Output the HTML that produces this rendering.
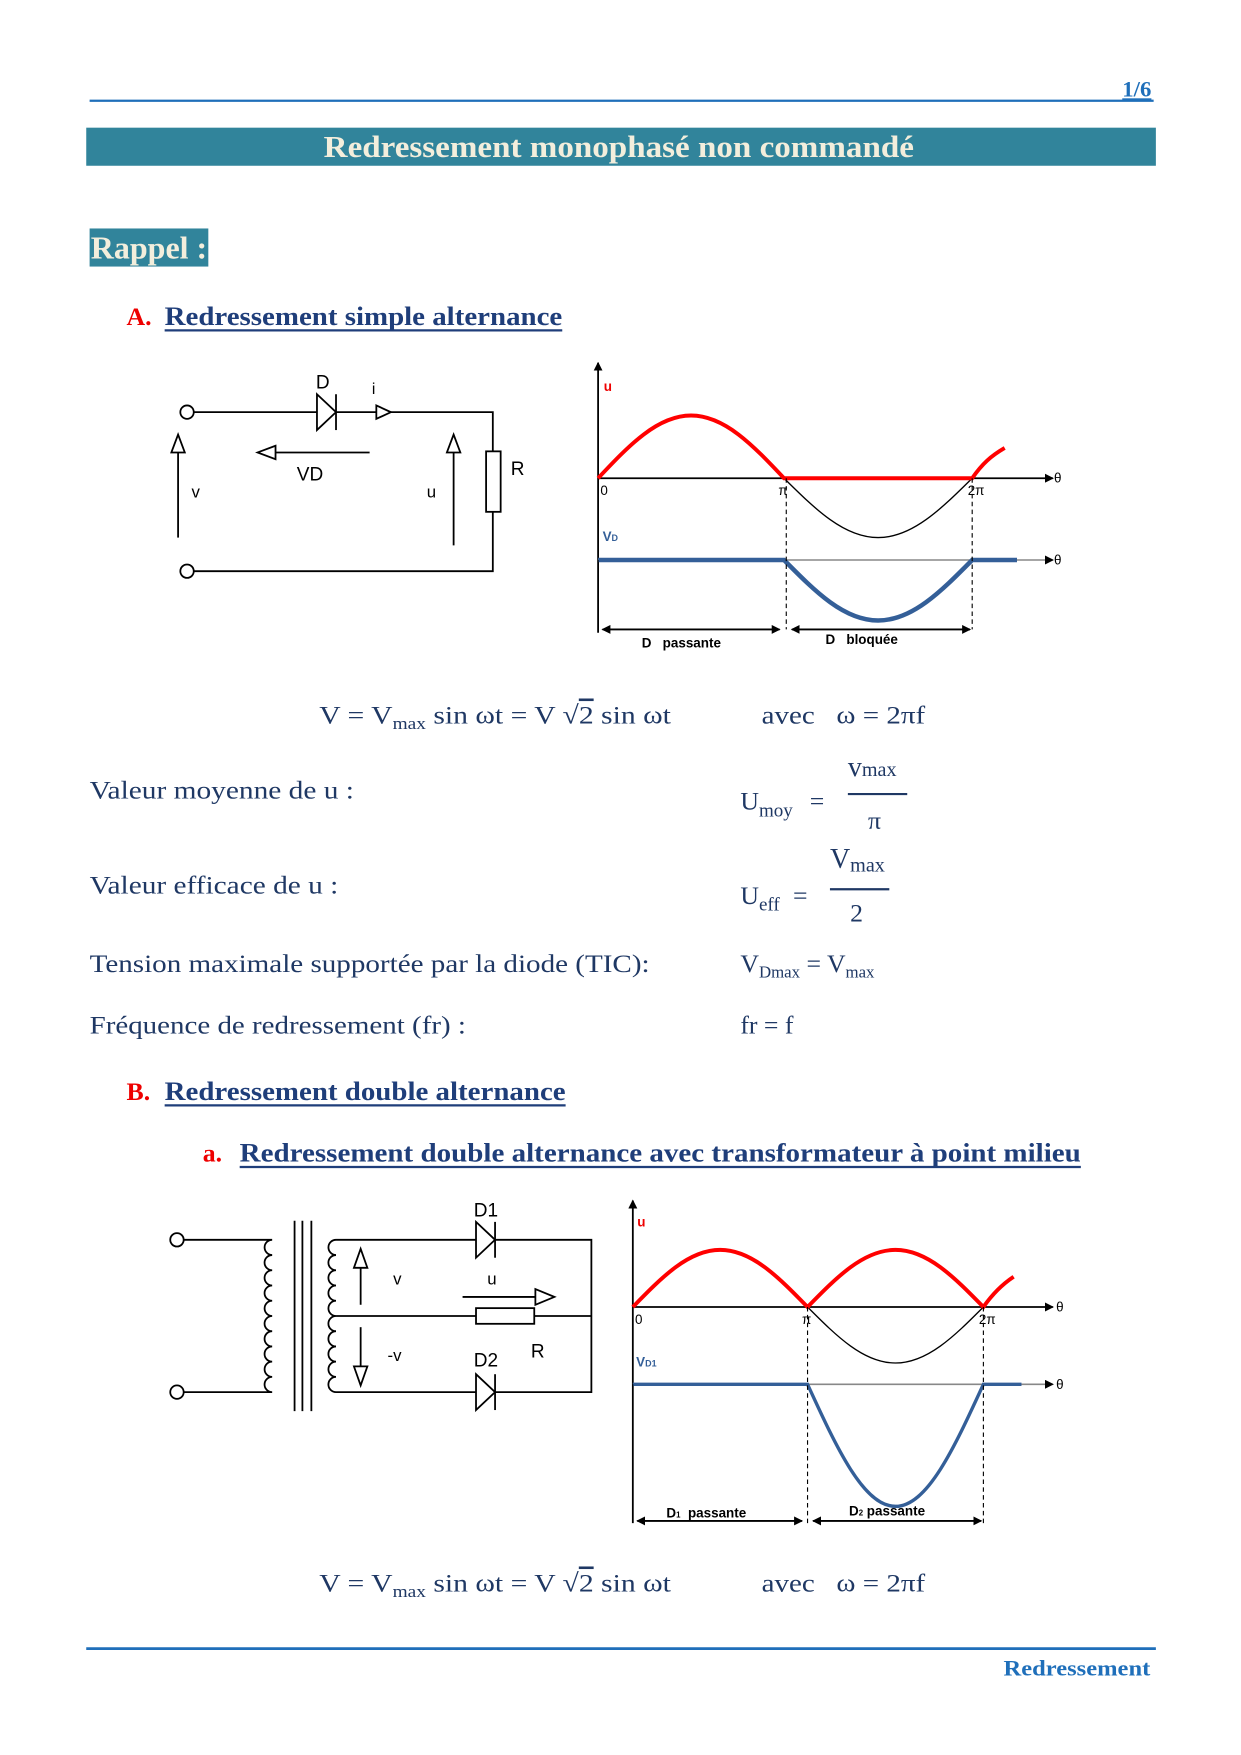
<!DOCTYPE html>
<html><head><meta charset="utf-8"><style>
html,body{margin:0;padding:0;background:#fff;}
svg{display:block;}
text{font-family:"Liberation Serif",serif;}
.s{font-family:"Liberation Sans",sans-serif;}
</style></head><body>
<svg width="1241" height="1755" viewBox="0 0 1108 1567" preserveAspectRatio="none" xmlns="http://www.w3.org/2000/svg">
<defs>
<marker id="ar" markerWidth="8" markerHeight="8" refX="7" refY="4" orient="auto" markerUnits="userSpaceOnUse"><path d="M0,0 L8,4 L0,8 z" fill="#000"/></marker>
<marker id="ar2" markerWidth="8" markerHeight="8" refX="1" refY="4" orient="auto" markerUnits="userSpaceOnUse"><path d="M8,0 L0,4 L8,8 z" fill="#000"/></marker>
</defs>
<!-- header -->
<line x1="80" y1="90" x2="1030" y2="90" stroke="#1f6fba" stroke-width="2"/>
<text x="1002" y="86" font-size="20" font-weight="bold" fill="#1f6fba" text-decoration="underline" textLength="26" lengthAdjust="spacingAndGlyphs">1/6</text>
<rect x="77" y="114" width="955" height="34" fill="#31849b"/>
<text x="289" y="140" font-size="27" font-weight="bold" fill="#f3eedc" textLength="527" lengthAdjust="spacingAndGlyphs">Redressement monophasé non commandé</text>
<rect x="80" y="204" width="106" height="34" fill="#31849b"/>
<text x="81" y="231" font-size="28" font-weight="bold" fill="#f3eedc" textLength="104" lengthAdjust="spacingAndGlyphs">Rappel :</text>
<text x="113" y="290" font-size="23" font-weight="bold" fill="#e00">A.</text>
<text x="147" y="290" font-size="24" font-weight="bold" fill="#1f3e7a" textLength="355" lengthAdjust="spacingAndGlyphs">Redressement simple alternance</text>
<line x1="147" y1="295" x2="502" y2="295" stroke="#1f3e7a" stroke-width="2"/>

<!-- circuit 1 -->
<g stroke="#000" stroke-width="1.6" fill="none">
<circle cx="167" cy="368" r="6"/><circle cx="167" cy="510" r="6"/>
<path d="M173,368 H440 V510 H173"/>
<path d="M283,352 L300,368 L283,384 Z" fill="#fff"/>
<line x1="300" y1="352" x2="300" y2="384"/>
<path d="M336,362 L349,368 L336,374 Z" fill="#fff"/>
<rect x="434" y="403" width="13" height="54" fill="#fff"/>
<line x1="159" y1="480" x2="159" y2="400"/><path d="M153,404 L159,388 L165,404 Z" fill="#fff"/>
<line x1="330" y1="404" x2="244" y2="404"/><path d="M246,398 L230,404 L246,410 Z" fill="#fff"/>
<line x1="405" y1="487" x2="405" y2="402"/><path d="M399,404 L405,388 L411,404 Z" fill="#fff"/>
</g>
<g font-size="17" fill="#000">
<text x="282" y="347" class="s">D</text><text x="332" y="352" class="s" font-size="14">i</text>
<text x="456" y="424" class="s">R</text><text x="171" y="444" class="s" font-size="15">v</text>
<text x="265" y="429" class="s">VD</text><text x="381" y="444" class="s" font-size="15">u</text>
</g>

<!-- graph 1 -->
<g fill="none">
<line x1="534" y1="565" x2="534" y2="324" stroke="#000" stroke-width="1.6" marker-end="url(#ar)"/>
<line x1="534" y1="427" x2="940" y2="427" stroke="#000" stroke-width="1.6" marker-end="url(#ar)"/>
<line x1="534" y1="500" x2="940" y2="500" stroke="#888" stroke-width="1.4" marker-end="url(#ar)"/>
<path d="M700,427 C728.1,454.8 753.6,480 784,480 S839.9,454.8 868,427" stroke="#000" stroke-width="1.2"/>
<path d="M534,427 C561.7,397.6 587,371 617,371 S672.3,397.6 700,427 L868,427 C877,414 885,407 897,400" stroke="#f00" stroke-width="3.5"/>
<path d="M534,500 L700,500 C728.1,528.4 753.6,554 784,554 S839.9,528.4 868,500 L908,500" stroke="#345f98" stroke-width="4"/>
<g stroke="#000" stroke-width="1" stroke-dasharray="4,3"><line x1="534" y1="500" x2="534" y2="562"/><line x1="702" y1="427" x2="702" y2="562"/><line x1="868" y1="427" x2="868" y2="562"/></g>
<line x1="538" y1="562" x2="696" y2="562" stroke="#000" stroke-width="1.6" marker-end="url(#ar)" marker-start="url(#ar2)"/>
<line x1="707" y1="562" x2="866" y2="562" stroke="#000" stroke-width="1.6" marker-end="url(#ar)" marker-start="url(#ar2)"/>
</g>
<g font-size="12" fill="#000">
<text x="539" y="349" fill="#e00" font-weight="bold" class="s">u</text>
<text x="536" y="442" class="s">0</text><text x="695" y="442" class="s">π</text><text x="864" y="442" class="s">2π</text>
<text x="941" y="431" class="s">θ</text><text x="941" y="504" class="s">θ</text>
<text x="538" y="483" fill="#345f98" font-weight="bold" class="s">V<tspan font-size="8">D</tspan></text>
<text x="573" y="578" class="s" font-weight="bold">D &#160; passante</text><text x="737" y="575" class="s" font-weight="bold">D &#160; bloquée</text>
</g>

<!-- formulas -->
<g fill="#1f3864" font-size="23">
<text x="285" y="646" textLength="314" lengthAdjust="spacingAndGlyphs">V = V<tspan font-size="15" dy="5">max</tspan><tspan dy="-5"> sin ωt = V √</tspan><tspan text-decoration="overline">2</tspan> sin ωt</text>
<text x="680" y="646" textLength="146" lengthAdjust="spacingAndGlyphs">avec &#160; ω = 2πf</text>
<text x="80" y="713" textLength="236" lengthAdjust="spacingAndGlyphs">Valeur moyenne de u :</text>
<text x="661" y="723">U<tspan font-size="17" dy="6">moy</tspan></text><text x="723" y="723">=</text>
<text x="757" y="693" font-size="25">v<tspan font-size="18">max</tspan></text>
<line x1="757" y1="709" x2="810" y2="709" stroke="#1f3864" stroke-width="2"/>
<text x="775" y="740">π</text>
<text x="80" y="798" textLength="222" lengthAdjust="spacingAndGlyphs">Valeur efficace de u :</text>
<text x="661" y="807">U<tspan font-size="17" dy="6">eff</tspan></text><text x="708" y="807">=</text>
<text x="741" y="775" font-size="25">V<tspan font-size="18" dy="3">max</tspan></text>
<line x1="741" y1="794" x2="794" y2="794" stroke="#1f3864" stroke-width="2"/>
<text x="759" y="823">2</text>
<text x="80" y="868" textLength="500" lengthAdjust="spacingAndGlyphs">Tension maximale supportée par la diode (TIC):</text>
<text x="661" y="868">V<tspan font-size="15" dy="5">Dmax</tspan><tspan dy="-5"> = V</tspan><tspan font-size="15" dy="5">max</tspan></text>
<text x="80" y="923" textLength="336" lengthAdjust="spacingAndGlyphs">Fréquence de redressement (fr) :</text>
<text x="661" y="923">fr = f</text>
</g>
<text x="113" y="982" font-size="23" font-weight="bold" fill="#e00">B.</text>
<text x="147" y="982" font-size="24" font-weight="bold" fill="#1f3e7a" textLength="358" lengthAdjust="spacingAndGlyphs">Redressement double alternance</text>
<line x1="147" y1="987" x2="505" y2="987" stroke="#1f3e7a" stroke-width="2"/>
<text x="181" y="1037" font-size="23" font-weight="bold" fill="#e00">a.</text>
<text x="214" y="1037" font-size="24" font-weight="bold" fill="#1f3e7a" textLength="751" lengthAdjust="spacingAndGlyphs">Redressement double alternance avec transformateur à point milieu</text>
<line x1="214" y1="1042" x2="965" y2="1042" stroke="#1f3e7a" stroke-width="2"/>

<!-- circuit 2 -->
<g stroke="#000" stroke-width="1.6" fill="none">
<circle cx="158" cy="1107" r="6"/><circle cx="158" cy="1243" r="6"/>
<path d="M164,1107 H243 a6.8,6.8 0 0 0 0,13.6 a6.8,6.8 0 0 0 0,13.6 a6.8,6.8 0 0 0 0,13.6 a6.8,6.8 0 0 0 0,13.6 a6.8,6.8 0 0 0 0,13.6 a6.8,6.8 0 0 0 0,13.6 a6.8,6.8 0 0 0 0,13.6 a6.8,6.8 0 0 0 0,13.6 a6.8,6.8 0 0 0 0,13.6 a6.8,6.8 0 0 0 0,13.6 H164"/>
<line x1="263" y1="1090" x2="263" y2="1260"/><line x1="270" y1="1090" x2="270" y2="1260"/><line x1="278" y1="1090" x2="278" y2="1260"/>
<path d="M300,1107 a6.8,6.8 0 0 0 0,13.6 a6.8,6.8 0 0 0 0,13.6 a6.8,6.8 0 0 0 0,13.6 a6.8,6.8 0 0 0 0,13.6 a6.8,6.8 0 0 0 0,13.6 a6.8,6.8 0 0 0 0,13.6 a6.8,6.8 0 0 0 0,13.6 a6.8,6.8 0 0 0 0,13.6 a6.8,6.8 0 0 0 0,13.6 a6.8,6.8 0 0 0 0,13.6"/>
<path d="M300,1107 H528 V1243 H300"/>
<path d="M300,1175 H528"/>
<path d="M425,1091 L442,1107 L425,1123 Z" fill="#fff"/><line x1="442" y1="1091" x2="442" y2="1123"/>
<path d="M425,1227 L442,1243 L425,1259 Z" fill="#fff"/><line x1="442" y1="1227" x2="442" y2="1259"/>
<rect x="425" y="1168" width="52" height="14" fill="#fff"/>
<line x1="413" y1="1158" x2="478" y2="1158"/><path d="M478,1151 L495,1158 L478,1165 Z" fill="#fff"/>
<line x1="322" y1="1165" x2="322" y2="1130"/><path d="M316,1132 L322,1115 L328,1132 Z" fill="#fff"/>
<line x1="322" y1="1185" x2="322" y2="1222"/><path d="M316,1220 L322,1237 L328,1220 Z" fill="#fff"/>
</g>
<g font-size="17" fill="#000">
<text x="423" y="1086" class="s">D1</text><text x="435" y="1147" class="s" font-size="15">u</text>
<text x="351" y="1147" class="s" font-size="15">v</text><text x="346" y="1215" class="s" font-size="15">-v</text>
<text x="423" y="1220" class="s">D2</text><text x="474" y="1212" class="s">R</text>
</g>

<!-- graph 2 -->
<g fill="none">
<line x1="565" y1="1360" x2="565" y2="1072" stroke="#000" stroke-width="1.6" marker-end="url(#ar)"/>
<line x1="565" y1="1167" x2="940" y2="1167" stroke="#000" stroke-width="1.6" marker-end="url(#ar)"/>
<line x1="565" y1="1236" x2="940" y2="1236" stroke="#888" stroke-width="1.4" marker-end="url(#ar)"/>
<path d="M721,1167 C747.2,1193.3 771.1,1217 799.5,1217 S851.8,1193.3 878,1167" stroke="#000" stroke-width="1.2"/>
<path d="M565,1167 C591.1,1140.2 614.8,1116 643,1116 S694.9,1140.2 721,1167 C747.2,1140.2 771.1,1116 799.5,1116 S851.8,1140.2 878,1167 C885,1157 893,1148 905,1140" stroke="#f00" stroke-width="3.5"/>
<path d="M565,1236 L721,1236 C747.2,1293.2 771.1,1345 799.5,1345 S851.8,1293.2 878,1236 L912,1236" stroke="#345f98" stroke-width="3"/>
<g stroke="#000" stroke-width="1" stroke-dasharray="4,3"><line x1="565" y1="1236" x2="565" y2="1362"/><line x1="721" y1="1167" x2="721" y2="1362"/><line x1="878" y1="1167" x2="878" y2="1362"/></g>
<line x1="569" y1="1358" x2="716" y2="1358" stroke="#000" stroke-width="1.6" marker-end="url(#ar)" marker-start="url(#ar2)"/>
<line x1="726" y1="1358" x2="876" y2="1358" stroke="#000" stroke-width="1.6" marker-end="url(#ar)" marker-start="url(#ar2)"/>
</g>
<g font-size="12" fill="#000">
<text x="569" y="1095" fill="#e00" font-weight="bold" class="s">u</text>
<text x="567" y="1182" class="s">0</text><text x="716" y="1182" class="s">π</text><text x="874" y="1182" class="s">2π</text>
<text x="943" y="1171" class="s">θ</text><text x="943" y="1240" class="s">θ</text>
<text x="568" y="1220" fill="#345f98" font-weight="bold" class="s">V<tspan font-size="8">D1</tspan></text>
<text x="595" y="1355" class="s" font-weight="bold">D<tspan font-size="7">1</tspan> &#160;passante</text><text x="758" y="1353" class="s" font-weight="bold">D<tspan font-size="7">2</tspan> passante</text>
</g>

<g fill="#1f3864" font-size="23">
<text x="285" y="1421" textLength="314" lengthAdjust="spacingAndGlyphs">V = V<tspan font-size="15" dy="5">max</tspan><tspan dy="-5"> sin ωt = V √</tspan><tspan text-decoration="overline">2</tspan> sin ωt</text>
<text x="680" y="1421" textLength="146" lengthAdjust="spacingAndGlyphs">avec &#160; ω = 2πf</text>
</g>
<line x1="77" y1="1472" x2="1032" y2="1472" stroke="#1f6fba" stroke-width="2.5"/>
<text x="896" y="1496" font-size="20" font-weight="bold" fill="#1f6fba" textLength="131" lengthAdjust="spacingAndGlyphs">Redressement</text>
</svg>
</body></html>
